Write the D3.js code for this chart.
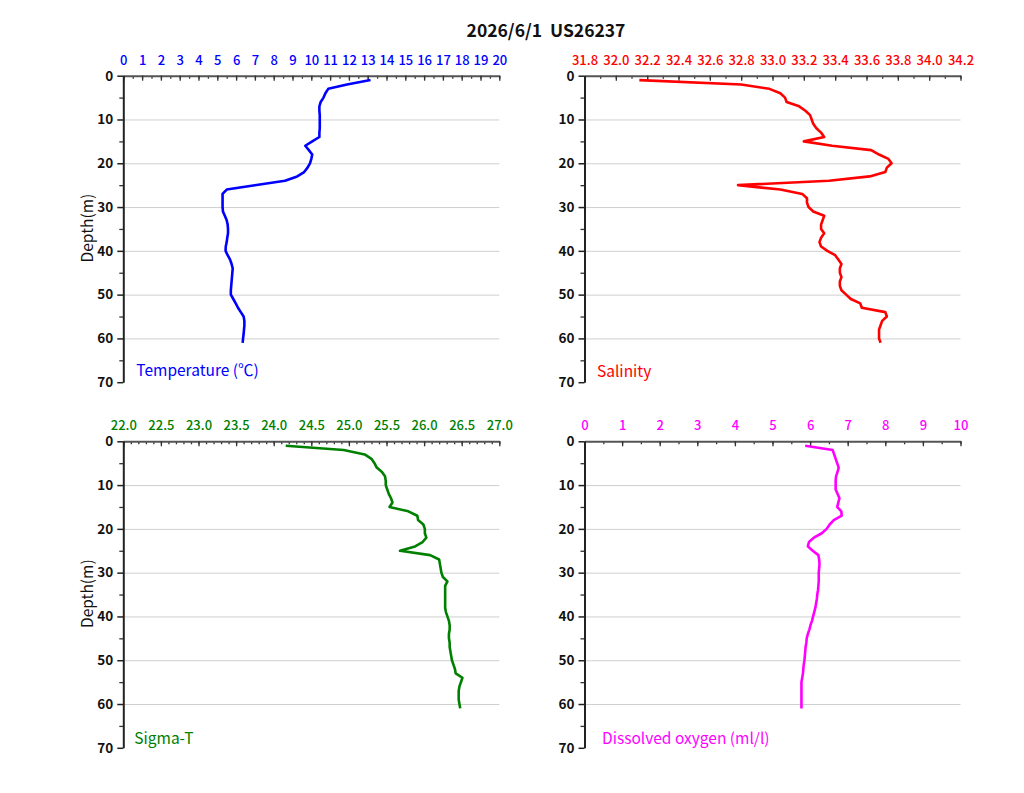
<!DOCTYPE html>
<html lang="ja">
<head>
<meta charset="UTF-8">
<title>2026/6/1 US26237</title>
<script src="https://d3js.org/d3.v7.min.js"></script>
<style>
    body { margin: 0; background: #fff; font-family: "Noto Sans CJK JP", "Noto Sans", sans-serif; }
    .grid line { stroke: #cfcfcf; stroke-width: 1; }
    .grid .domain { display: none; }
</style>
</head>
<body>
<svg id="chart" width="1024" height="793"></svg>
<script>
// title
const title = "2026/6/1\u00a0\u00a0US26237";

// depth (m) of each sample
const depths = d3.range(1, 62);

// readings per depth
const temperature = [13.15, 11.9, 10.9, 10.75, 10.65, 10.5, 10.43, 10.43, 10.45, 10.45,
    10.45, 10.45, 10.43, 10.43, 10.05, 9.68, 9.87, 10.05, 10.0, 9.93,
    9.8, 9.62, 9.25, 8.6, 7.0, 5.5, 5.28, 5.28, 5.28, 5.28,
    5.3, 5.4, 5.5, 5.55, 5.57, 5.57, 5.53, 5.5, 5.45, 5.44,
    5.55, 5.68, 5.76, 5.82, 5.8, 5.78, 5.76, 5.74, 5.72, 5.72,
    5.85, 5.98, 6.1, 6.25, 6.4, 6.44, 6.44, 6.42, 6.4, 6.37, 6.35];

const salinity = [32.15, 32.80, 32.98, 33.05, 33.08, 33.09, 33.17, 33.21, 33.24, 33.25,
    33.26, 33.28, 33.31, 33.33, 33.20, 33.38, 33.63, 33.68, 33.74, 33.76,
    33.73, 33.72, 33.62, 33.36, 32.78, 33.05, 33.19, 33.22, 33.22, 33.23,
    33.26, 33.33, 33.32, 33.31, 33.31, 33.33, 33.31, 33.30, 33.31, 33.35,
    33.40, 33.42, 33.44, 33.43, 33.43, 33.44, 33.43, 33.43, 33.44, 33.47,
    33.50, 33.56, 33.57, 33.72, 33.73, 33.70, 33.69, 33.68, 33.68, 33.68, 33.69];

const sigmaT = [24.16, 24.93, 25.21, 25.30, 25.34, 25.37, 25.44, 25.48, 25.49, 25.49,
    25.51, 25.53, 25.56, 25.58, 25.54, 25.79, 25.91, 25.92, 25.99, 26.01,
    26.01, 26.03, 25.98, 25.88, 25.68, 26.08, 26.20, 26.21, 26.22, 26.23,
    26.25, 26.31, 26.28, 26.28, 26.28, 26.28, 26.28, 26.28, 26.29, 26.31,
    26.33, 26.34, 26.34, 26.33, 26.33, 26.34, 26.34, 26.35, 26.36, 26.37,
    26.39, 26.41, 26.42, 26.51, 26.49, 26.47, 26.46, 26.46, 26.46, 26.47, 26.48];

const oxygen = [5.87, 6.60, 6.64, 6.68, 6.72, 6.76, 6.73, 6.69, 6.68, 6.68,
    6.68, 6.73, 6.78, 6.75, 6.72, 6.83, 6.84, 6.63, 6.52, 6.44,
    6.31, 6.10, 5.97, 5.94, 6.07, 6.22, 6.24, 6.25, 6.24, 6.23,
    6.23, 6.23, 6.22, 6.21, 6.19, 6.18, 6.16, 6.14, 6.11, 6.08,
    6.05, 6.01, 5.98, 5.94, 5.91, 5.90, 5.88, 5.87, 5.86, 5.85,
    5.83, 5.82, 5.81, 5.79, 5.77, 5.77, 5.77, 5.77, 5.77, 5.77, 5.77];

// axis ranges and tick labels
const depthTicks = [0, 10, 20, 30, 40, 50, 60, 70];
const tempTicks = d3.range(0, 21, 1);
const salTicks = [31.8, 32.0, 32.2, 32.4, 32.6, 32.8, 33.0, 33.2, 33.4, 33.6, 33.8, 34.0, 34.2];
const sigmaTicks = [22.0, 22.5, 23.0, 23.5, 24.0, 24.5, 25.0, 25.5, 26.0, 26.5, 27.0];
const oxyTicks = d3.range(0, 11, 1);

const panels = [
    { name: "Temperature (\u2103)", values: temperature, ticks: tempTicks, minor: 0.5, fmt: d3.format("d"),
      color: "#0000ff", x0: 123.3, y0: 75.7, depthLabel: true, lx: 13, ly: 68.7 },
    { name: "Salinity", values: salinity, ticks: salTicks, minor: 0.1, fmt: d3.format(".1f"),
      color: "#ff0000", x0: 584.5, y0: 75.7, depthLabel: false, lx: 12.5, ly: 68.9 },
    { name: "Sigma-T", values: sigmaT, ticks: sigmaTicks, minor: 0.1, fmt: d3.format(".1f"),
      color: "#008000", x0: 123.3, y0: 441.3, depthLabel: true, lx: 11, ly: 69.1 },
    { name: "Dissolved oxygen (ml/l)", values: oxygen, ticks: oxyTicks, minor: 0.5, fmt: d3.format("d"),
      color: "#ff00ff", x0: 584.5, y0: 441.3, depthLabel: false, lx: 17.5, ly: 69.1 }
];

const pw = 376, ph = 306.5;
const svg = d3.select("#chart");

svg.append("text")
    .attr("x", 546).attr("y", 37)
    .attr("text-anchor", "middle")
    .attr("font-size", 17.5).attr("font-weight", "bold")
    .attr("fill", "#111")
    .text(title);

panels.forEach(p => {
    const g = svg.append("g").attr("transform", `translate(${p.x0},${p.y0})`);
    const lo = p.ticks[0], hi = p.ticks[p.ticks.length - 1];
    const x = d3.scaleLinear().domain([lo, hi]).range([0, pw]);
    const y = d3.scaleLinear().domain([0, 70]).range([0, ph]);

    // horizontal grid lines
    g.append("g").attr("class", "grid")
        .call(d3.axisLeft(y).tickValues([10, 20, 30, 40, 50, 60]).tickSize(-pw).tickFormat(""));

    // top axis: minor ticks, then majors with labels
    const minorVals = d3.range(0, Math.round((hi - lo) / p.minor) + 1).map(i => lo + i * p.minor);
    const topMinor = g.append("g")
        .call(d3.axisTop(x).tickValues(minorVals).tickSize(-3).tickFormat(""));
    topMinor.selectAll("line").attr("stroke", "#333").attr("stroke-width", 1.3);
    topMinor.select(".domain").remove();

    const top = g.append("g")
        .call(d3.axisTop(x).tickValues(p.ticks).tickSize(-5).tickSizeOuter(0).tickPadding(11).tickFormat(p.fmt));
    top.select(".domain").attr("stroke", "#555").attr("stroke-width", 2);
    top.selectAll(".tick line").attr("stroke", "#333").attr("stroke-width", 1.3);
    top.selectAll("text")
        .attr("fill", p.color)
        .attr("font-size", 13)
        .attr("font-weight", 500)
        .attr("font-family", "'Noto Sans CJK JP', sans-serif");

    // left depth axis
    const leftMinor = g.append("g")
        .call(d3.axisLeft(y).tickValues([5, 15, 25, 35, 45, 55, 65]).tickSize(4).tickFormat(""));
    leftMinor.selectAll("line").attr("stroke", "#333").attr("stroke-width", 1.3);
    leftMinor.select(".domain").remove();

    const left = g.append("g")
        .call(d3.axisLeft(y).tickValues(depthTicks).tickSize(6).tickSizeOuter(0).tickPadding(4));
    left.select(".domain").attr("stroke", "#222").attr("stroke-width", 2);
    left.selectAll(".tick line").attr("stroke", "#222").attr("stroke-width", 1.5);
    left.selectAll("text")
        .attr("fill", "#111")
        .attr("font-size", 13.5)
        .attr("font-weight", "bold")
        .attr("font-family", "'Noto Sans CJK JP', sans-serif");

    if (p.depthLabel) {
        g.append("text")
            .attr("transform", `translate(-30,${y(34.8)}) rotate(-90)`)
            .attr("text-anchor", "middle")
            .attr("font-size", 15.5)
            .attr("fill", "#111")
            .text("Depth(m)");
    }

    // profile line
    const line = d3.line()
        .x((d, i) => x(p.values[i]))
        .y(d => y(d));
    g.append("path")
        .datum(depths)
        .attr("d", line)
        .attr("fill", "none")
        .attr("stroke", p.color)
        .attr("stroke-width", 2.6)
        .attr("stroke-linejoin", "round");

    // series name
    g.append("text")
        .attr("x", p.lx)
        .attr("y", y(p.ly))
        .attr("font-size", 15.5)
        .attr("fill", p.color)
        .text(p.name);
});
</script>
</body>
</html>
